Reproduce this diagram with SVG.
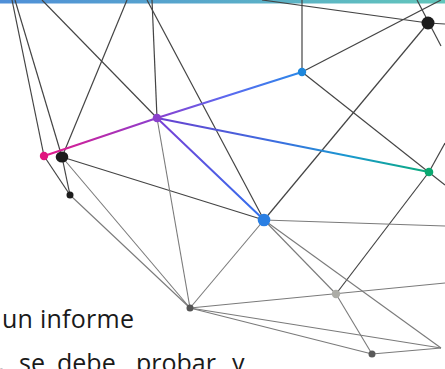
<svg xmlns="http://www.w3.org/2000/svg" width="445" height="369" viewBox="0 0 445 369">
  <defs>
    <linearGradient id="bar" x1="0" y1="0" x2="1" y2="0">
      <stop offset="0" stop-color="#4f8fd8"/>
      <stop offset="1" stop-color="#62c6bb"/>
    </linearGradient>
    <linearGradient id="gAD" gradientUnits="userSpaceOnUse" x1="44" y1="156" x2="157" y2="118">
      <stop offset="0" stop-color="#e3188a"/>
      <stop offset="1" stop-color="#8a3fcf"/>
    </linearGradient>
    <linearGradient id="gDE" gradientUnits="userSpaceOnUse" x1="157" y1="118" x2="302" y2="72">
      <stop offset="0" stop-color="#8a3fcf"/>
      <stop offset="0.5" stop-color="#5a6af0"/>
      <stop offset="1" stop-color="#2b88e8"/>
    </linearGradient>
    <linearGradient id="gDH" gradientUnits="userSpaceOnUse" x1="157" y1="118" x2="264" y2="220">
      <stop offset="0" stop-color="#7a3fd6"/>
      <stop offset="1" stop-color="#2f72ee"/>
    </linearGradient>
    <linearGradient id="gDG" gradientUnits="userSpaceOnUse" x1="157" y1="118" x2="429" y2="172">
      <stop offset="0" stop-color="#6a40d0"/>
      <stop offset="0.45" stop-color="#3a6fe0"/>
      <stop offset="0.7" stop-color="#1a98d0"/>
      <stop offset="1" stop-color="#0aac7a"/>
    </linearGradient>
  </defs>
  <style>
    .ln { stroke: #444; stroke-width: 1.2; fill: none; }
    .lt { stroke: #7a7a7a; stroke-width: 1.1; fill: none; }
    .cl { stroke-width: 2; fill: none; stroke-linecap: round; }
    .txt { font-family: "Open Sans", "Liberation Sans", sans-serif; font-size: 25px; fill: #1a1a1a; }
  </style>

  <rect x="0" y="0" width="445" height="3.5" fill="url(#bar)"/>

  <g id="connectors">
    <!-- upper mesh -->
    <line class="ln" x1="12" y1="0" x2="44" y2="156"/>
    <line class="ln" x1="15" y1="0" x2="62" y2="157"/>
    <line class="ln" x1="42" y1="0" x2="157" y2="118"/>
    <line class="ln" x1="127" y1="0" x2="62" y2="157"/>
    <line class="ln" x1="147" y1="0" x2="264" y2="220"/>
    <line class="ln" x1="152" y1="0" x2="157" y2="118"/>
    <line class="ln" x1="262" y1="0" x2="428" y2="23"/>
    <line class="ln" x1="302" y1="0" x2="302" y2="72"/>
    <line class="ln" x1="302" y1="72" x2="441" y2="0"/>
    <line class="ln" x1="302" y1="72" x2="445" y2="185"/>
    <line class="ln" x1="417" y1="0" x2="441" y2="46"/>
    <line class="ln" x1="428" y1="23" x2="445" y2="24"/>
    <line class="ln" x1="428" y1="23" x2="264" y2="220"/>
    <line class="ln" x1="429" y1="172" x2="445" y2="143"/>
    <line class="ln" x1="429" y1="172" x2="336" y2="294"/>
    <!-- left cluster -->
    <line class="ln" x1="62" y1="157" x2="70" y2="195"/>
    <line class="ln" x1="44" y1="156" x2="70" y2="195"/>
    <line class="ln" x1="62" y1="157" x2="264" y2="220"/>
    <line class="lt" x1="62" y1="157" x2="190" y2="308"/>
    <line class="lt" x1="70" y1="195" x2="190" y2="308"/>
    <line class="lt" x1="157" y1="118" x2="190" y2="308"/>
    <!-- lower mesh -->
    <line class="lt" x1="264" y1="220" x2="190" y2="308"/>
    <line class="lt" x1="264" y1="220" x2="445" y2="226"/>
    <line class="lt" x1="264" y1="220" x2="336" y2="294"/>
    <line class="lt" x1="264" y1="220" x2="441" y2="348"/>
    <line class="lt" x1="336" y1="294" x2="372" y2="354"/>
    <line class="lt" x1="190" y1="308" x2="445" y2="283"/>
    <line class="lt" x1="190" y1="308" x2="372" y2="354"/>
    <line class="lt" x1="190" y1="308" x2="441" y2="348"/>
    <line class="lt" x1="372" y1="354" x2="441" y2="348"/>
    <!-- highlighted path -->
    <line class="cl" stroke="url(#gAD)" x1="44" y1="156" x2="157" y2="118"/>
    <line class="cl" stroke="url(#gDE)" x1="157" y1="118" x2="302" y2="72"/>
    <line class="cl" stroke="url(#gDH)" stroke-width="2.4" x1="157" y1="118" x2="264" y2="220"/>
    <line class="cl" stroke="url(#gDG)" x1="157" y1="118" x2="429" y2="172"/>
  </g>

  <g id="node-a"><circle cx="44" cy="156" r="4.2" fill="#e0157f"/></g>
  <g id="node-b"><ellipse cx="62" cy="157" rx="6.3" ry="5.5" fill="#1c1c1c"/></g>
  <g id="node-c"><circle cx="70" cy="195" r="3.5" fill="#1c1c1c"/></g>
  <g id="node-d"><circle cx="157" cy="118" r="4.3" fill="#8a40cc"/></g>
  <g id="node-e"><circle cx="302" cy="72" r="4.2" fill="#1d87dc"/></g>
  <g id="node-f"><circle cx="428" cy="23" r="6.5" fill="#1c1c1c"/></g>
  <g id="node-g"><circle cx="429" cy="172" r="4.3" fill="#0aa870"/></g>
  <g id="node-h"><circle cx="264" cy="220" r="6.3" fill="#2a7fe3"/></g>
  <g id="node-i"><circle cx="190" cy="308" r="3.5" fill="#555"/></g>
  <g id="node-j"><circle cx="336" cy="294" r="4.2" fill="#acaca6"/></g>
  <g id="node-k"><circle cx="372" cy="354" r="3.5" fill="#5a5a5a"/></g>

  <g id="caption">
    <text class="txt" x="2" y="328" textLength="132" lengthAdjust="spacing">un informe</text>
    <text class="txt" y="372"><tspan x="-2">,</tspan><tspan x="19">se</tspan><tspan x="57">debe</tspan><tspan x="136">probar</tspan><tspan x="232">y</tspan></text>
  </g>
</svg>
